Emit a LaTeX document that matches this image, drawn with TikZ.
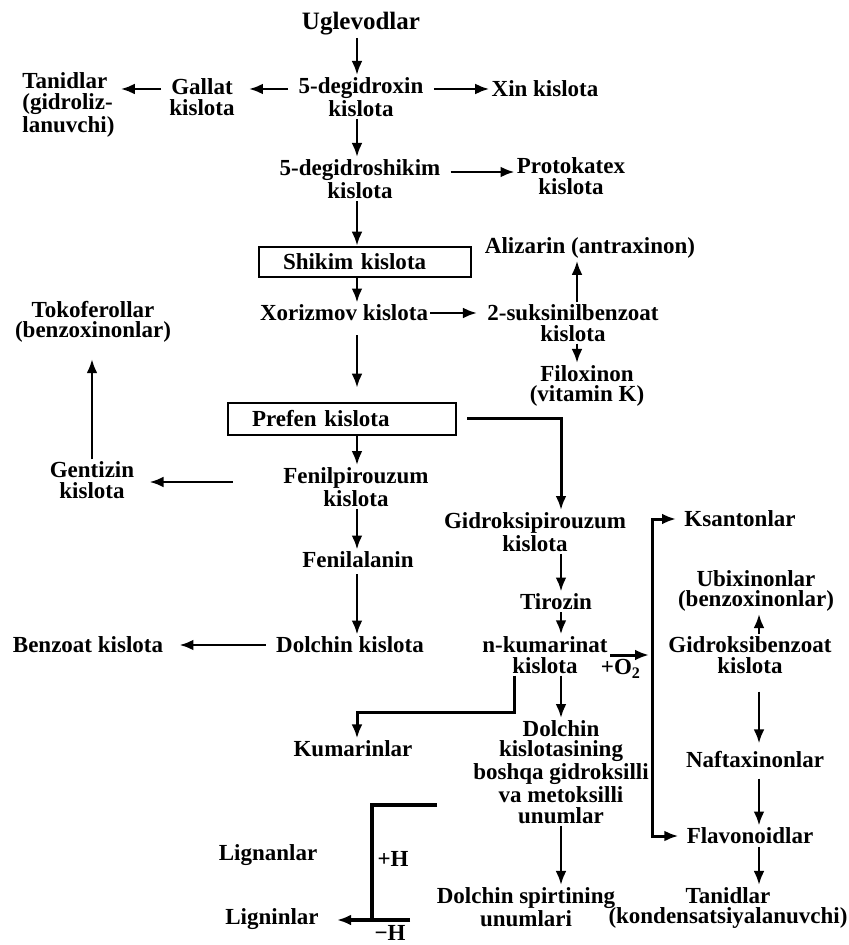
\documentclass[tikz,border=0pt]{standalone}
\usepackage{fontspec}
\setmainfont{Liberation Serif}
\usetikzlibrary{arrows.meta,positioning,calc}

\begin{document}
\begin{tikzpicture}[x=0.5pt,y=-0.5pt,
  font=\bfseries\fontsize{11.5}{10.2}\selectfont,
  every node/.style={align=center,inner sep=1pt},
  big/.style={font=\bfseries\fontsize{12.5}{12}\selectfont},
  box/.style={draw,line width=1.3pt,align=left,inner xsep=12pt,minimum height=15pt},
  edge/.style={line width=1.25pt,->,>={Latex[length=7pt,width=5.4pt]}},
  elbow/.style={line width=1.5pt,->,>={Latex[length=7pt,width=5.4pt]}},
  heavy/.style={line width=2pt}]
\useasboundingbox (0,0) rectangle (848,945);

% columns the vertical arrows run along
\coordinate (colA) at (357,0);
\coordinate (colB) at (577,0);
\coordinate (colC) at (561,0);
\coordinate (colD) at (759,0);

\node (ugl) at (361,24) [big] {Uglevodlar};
\node (dhx) at (361,97) {5-degidroxin\\kislota};
\node (gal) at (202,97) {Gallat\\kislota};
\node (tgl) at (20,105) [anchor=west,align=left] {Tanidlar\\(gidroliz-\\lanuvchi)};
\node (xin) at (545,89) {Xin kislota};
\node (dhs) at (360,179) {5-degidroshikim\\kislota};
\node (pro) at (571,176) {Protokatex\\kislota};
\node (shi) at (365,262) [box,text width=82pt] {Shikim kislota};
\node (ali) at (590,248) {Alizarin (antraxinon)};
\node (xor) at (344,313) {Xorizmov kislota};
\node (suk) at (573,323) {2-suksinilbenzoat\\kislota};
\node (tok) at (93,322) {Tokoferollar\\(benzoxinonlar)};
\node (fil) at (587,386) {Filoxinon\\(vitamin K)};
\node (pre) at (342,419) [box,text width=90pt,minimum height=16pt] {Prefen kislota};
\node (gen) at (92,480) {Gentizin\\kislota};
\node (fpz) at (356,487) {Fenilpirouzum\\kislota};
\node (ksa) at (740,519) {Ksantonlar};
\node (gpz) at (535,532) {Gidroksipirouzum\\kislota};
\node (fal) at (358,560) {Fenilalanin};
\node (ubi) at (756,591) {Ubixinonlar\\(benzoxinonlar)};
\node (tir) at (556,602) {Tirozin};
\node (dol) at (350,645) {Dolchin kislota};
\node (ben) at (88,645) {Benzoat kislota};
\node (kum) at (545,655) {n-kumarinat\\kislota};
\node (gbz) at (750,655) {Gidroksibenzoat\\kislota};
\node (oxy) at (621,669) {+O\textsubscript{2}};
\node (kmr) at (353,749) {Kumarinlar};
\node (naf) at (755,760) {Naftaxinonlar};
\node (dks) at (561,772) {Dolchin\\kislotasining\\boshqa gidroksilli\\va metoksilli\\unumlar};
\node (fla) at (750,836) {Flavonoidlar};
\node (lgn) at (268,855) {Lignanlar};
\node (plh) at (393,859) {+H};
\node (dsp) at (526,907) {Dolchin spirtining\\unumlari};
\node (tkd) at (728,908) {Tanidlar\\(kondensatsiyalanuvchi)};
\node (lgi) at (272,919) {Ligninlar};
\node (mih) at (390,933) {−H};

% main column
\draw [edge] (ugl.south -| colA) -- (dhx.north -| colA);
\draw [edge] (dhx.south -| colA) -- (dhs.north -| colA);
\draw [edge] (dhs.south -| colA) -- (shi.north -| colA);
\draw [edge] (shi.south -| colA) -- (xor.north -| colA);
\draw [edge,shorten <=6pt,shorten >=7pt] (xor.south -| colA) -- (pre.north -| colA);
\draw [edge] (pre.south -| colA) -- (fpz.north -| colA);
\draw [edge] (fpz.south -| colA) -- (fal.north -| colA);
\draw [edge,shorten <=2pt] (fal.south -| colA) -- (dol.north -| colA);

% side branches
\draw [edge,shorten <=4pt,shorten >=6pt] ([yshift=4pt]dhx.west) -- ([yshift=4pt]dhx.west -| gal.east);
\draw [edge,shorten <=3pt,shorten >=2pt] ([yshift=4pt]gal.west) -- ([yshift=4pt]gal.west -| tgl.east);
\draw [edge,shorten <=4pt] ([yshift=4pt]dhx.east) -- ([yshift=4pt]dhx.east -| xin.west);
\draw [edge,shorten <=4pt] ([yshift=3.5pt]dhs.east) -- ([yshift=3.5pt]dhs.east -| pro.west);
\draw [edge,shorten >=4pt] (xor.east) -- (xor.east -| suk.west);
\draw [edge] (suk.north -| colB) -- (ali.south -| colB);
\draw [edge] (suk.south -| colB) -- (fil.north -| colB);
\draw [edge,shorten <=24pt,shorten >=6.5pt] ([yshift=2.5pt]fpz.west) -- ([yshift=2.5pt]fpz.west -| gen.east);
\draw [edge,shorten >=7pt] (gen.north) -- (gen.north |- tok.south);
\draw [edge,shorten <=4pt,shorten >=7pt] (dol.west) -- (dol.west -| ben.east);

% tyrosine branch
\draw [elbow,shorten <=5pt] (pre.east) -| (gpz.north -| colC);
\draw [edge] (gpz.south -| colC) -- (tir.north -| colC);
\draw [edge] (tir.south -| colC) -- (kum.north -| colC);
\draw [edge] (kum.south -| colC) -- (dks.north -| colC);
\draw [edge] (dks.south -| colC) -- (dsp.north -| colC);

\coordinate (kbend) at (514,712);
\draw [elbow] (kum.south -| kbend) -- (kbend) -| (kmr.north -| colA);

% oxidation fork
\coordinate (fork) at (652,655);
\draw [elbow,shorten >=1.5pt] (kum.east) -- (fork);
\draw [elbow,shorten >=3pt] (fork) |- (ksa.west);
\draw [elbow,shorten >=3pt] (fork) |- (fla.west);

\draw [edge] (gbz.north -| colD) -- (ubi.south -| colD);
\draw [edge,shorten <=8pt,shorten >=3pt] (gbz.south -| colD) -- (naf.north -| colD);
\draw [edge,shorten <=4pt] (naf.south -| colD) -- (fla.north -| colD);
\draw [edge] (fla.south -| colD) -- (tkd.north -| colD);

% lignin bracket
\coordinate (lgtop) at (437,805);
\coordinate (lgcrn) at (372,805);
\coordinate (lgend) at (410,920);
\draw [heavy] (lgtop) -- (lgcrn) -- (lgcrn |- lgend);
\draw [heavy,->,>={Latex[length=7pt,width=5.4pt]},shorten >=8pt] (lgend) -- (lgend -| lgi.east);
\end{tikzpicture}
\end{document}
